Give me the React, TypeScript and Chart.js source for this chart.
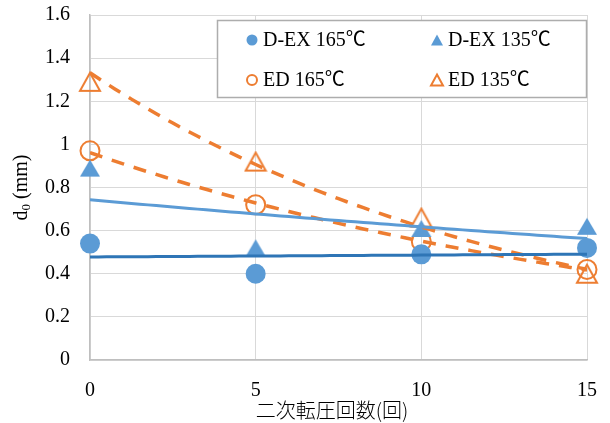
import { useEffect, useRef } from 'react';
import { Chart, registerables } from 'chart.js';

Chart.register(...registerables);

// ---- data ----
const xValues = [0, 5, 10, 15];
const dex165 = [0.54, 0.40, 0.49, 0.52];
const dex135 = [0.89, 0.52, 0.61, 0.62];
const ed165 = [0.97, 0.72, 0.55, 0.42];
const ed135 = [1.29, 0.92, 0.66, 0.40];
const seriesLabels = ['D-EX 165℃', 'D-EX 135℃', 'ED 165℃', 'ED 135℃'];
const xTicks = [0, 5, 10, 15];
const yTicks = [0, 0.2, 0.4, 0.6, 0.8, 1.0, 1.2, 1.4, 1.6];
const xTitle = '二次転圧回数(回)';
const yTitleMain = 'd';
const yTitleSub = '0';
const yTitleUnit = ' (mm)';

const BLUE = '#5B9BD5';
const DARK_BLUE = '#2E75B6';
const ORANGE = '#ED7D31';
const SERIF = "'Liberation Serif', 'Noto Sans CJK JP', serif";
const CJK = "'Noto Sans CJK JP', sans-serif";

// exponential trendline (Excel style): ln y = a + b x
function expTrend(xs: number[], ys: number[]) {
  const n = xs.length;
  const ly = ys.map((v) => Math.log(v));
  const mx = xs.reduce((s, v) => s + v, 0) / n;
  const my = ly.reduce((s, v) => s + v, 0) / n;
  let sxy = 0;
  let sxx = 0;
  for (let i = 0; i < n; i++) {
    sxy += (xs[i] - mx) * (ly[i] - my);
    sxx += (xs[i] - mx) * (xs[i] - mx);
  }
  const b = sxy / sxx;
  const a = my - b * mx;
  const x0 = xs[0];
  const x1 = xs[n - 1];
  const pts: { x: number; y: number }[] = [];
  const steps = 60;
  for (let i = 0; i <= steps; i++) {
    const x = x0 + ((x1 - x0) * i) / steps;
    pts.push({ x, y: Math.exp(a + b * x) });
  }
  return pts;
}

const toPts = (ys: number[]) => xValues.map((x, i) => ({ x, y: ys[i] }));

// triangle marker image, centred on its bounding box (as in the original)
function triangleImage(w: number, h: number, color: string, filled: boolean) {
  const pad = 2;
  const c = document.createElement('canvas');
  c.width = Math.ceil(w + pad * 2);
  c.height = Math.ceil(h + pad * 2);
  const ctx = c.getContext('2d')!;
  ctx.beginPath();
  ctx.moveTo(c.width / 2, pad);
  ctx.lineTo(pad + w, pad + h);
  ctx.lineTo(pad, pad + h);
  ctx.closePath();
  if (filled) {
    ctx.fillStyle = color;
    ctx.fill();
  } else {
    ctx.lineJoin = 'miter';
    ctx.strokeStyle = color;
    ctx.lineWidth = 2;
    ctx.stroke();
  }
  return c;
}

type LegendItem = { label: string; style: string; color: string; filled: boolean };
const legendItems: LegendItem[] = [
  { label: seriesLabels[0], style: 'circle', color: BLUE, filled: true },
  { label: seriesLabels[1], style: 'triangle', color: BLUE, filled: true },
  { label: seriesLabels[2], style: 'circle', color: ORANGE, filled: false },
  { label: seriesLabels[3], style: 'triangle', color: ORANGE, filled: false },
];

function drawMarker(ctx: CanvasRenderingContext2D, it: LegendItem, x: number, y: number) {
  ctx.save();
  ctx.beginPath();
  if (it.style === 'circle') {
    ctx.arc(x, y, it.filled ? 5.5 : 5, 0, Math.PI * 2);
  } else {
    const hw = 6;
    const hh = 5.5;
    ctx.moveTo(x, y - hh);
    ctx.lineTo(x + hw, y + hh);
    ctx.lineTo(x - hw, y + hh);
    ctx.closePath();
  }
  if (it.filled) {
    ctx.fillStyle = it.color;
    ctx.fill();
  } else {
    ctx.strokeStyle = it.color;
    ctx.lineWidth = 2;
    ctx.stroke();
  }
  ctx.restore();
}

const overlayPlugin = {
  id: 'overlay',
  afterDraw(chart: any) {
    const ctx: CanvasRenderingContext2D = chart.ctx;
    const area = chart.chartArea;
    ctx.save();
    // y title with subscript
    ctx.fillStyle = '#000';
    const mainFont = `20px ${SERIF}`;
    const subFont = `13px ${SERIF}`;
    ctx.font = mainFont;
    const wMain = ctx.measureText(yTitleMain).width;
    const wUnit = ctx.measureText(yTitleUnit).width;
    ctx.font = subFont;
    const wSub = ctx.measureText(yTitleSub).width;
    const total = wMain + wSub + wUnit;
    ctx.translate(22, (area.top + area.bottom) / 2);
    ctx.rotate(-Math.PI / 2);
    ctx.textBaseline = 'middle';
    ctx.textAlign = 'left';
    let cx = -total / 2;
    ctx.font = mainFont;
    ctx.fillText(yTitleMain, cx, 0);
    cx += wMain;
    ctx.font = subFont;
    ctx.fillText(yTitleSub, cx, 5);
    cx += wSub;
    ctx.font = mainFont;
    ctx.fillText(yTitleUnit, cx, 0);
    ctx.restore();

    // x title
    ctx.save();
    ctx.fillStyle = '#000';
    ctx.font = `300 20px ${CJK}`;
    ctx.textAlign = 'center';
    ctx.textBaseline = 'middle';
    ctx.fillText(xTitle, 332, 410);
    ctx.restore();

    // legend
    ctx.save();
    ctx.fillStyle = '#fff';
    ctx.fillRect(217, 20, 370, 78);
    ctx.strokeStyle = '#ADADAD';
    ctx.lineWidth = 1.5;
    ctx.strokeRect(217.5, 20.5, 369, 77);
    const cols = [252, 437];
    const rows = [40, 80];
    ctx.font = `20px ${SERIF}`;
    ctx.textBaseline = 'middle';
    ctx.textAlign = 'left';
    legendItems.forEach((it, i) => {
      const mx = cols[i % 2];
      const my = rows[Math.floor(i / 2)];
      drawMarker(ctx, it, mx, my);
      ctx.fillStyle = '#000';
      ctx.fillText(it.label, mx + 11, my + 1);
    });
    ctx.restore();
  },
};

export default function App() {
  const ref = useRef<HTMLCanvasElement | null>(null);

  useEffect(() => {
    if (!ref.current) return;
    const trendBase = {
      showLine: true,
      pointRadius: 0,
      pointHoverRadius: 0,
      fill: false,
      tension: 0,
      order: 0,
    };
    const triBlue = triangleImage(20, 17, BLUE, true);
    const triOrange = triangleImage(20, 18, ORANGE, false);
    const chart = new Chart(ref.current, {
      type: 'scatter',
      data: {
        datasets: [
          { ...trendBase, label: 'trend1', data: expTrend(xValues, dex165), borderColor: DARK_BLUE, borderWidth: 3 },
          { ...trendBase, label: 'trend2', data: expTrend(xValues, dex135), borderColor: BLUE, borderWidth: 3 },
          { ...trendBase, label: 'trend3', data: expTrend(xValues, ed165), borderColor: ORANGE, borderWidth: 3.5, borderDash: [13, 10] },
          { ...trendBase, label: 'trend4', data: expTrend(xValues, ed135), borderColor: ORANGE, borderWidth: 3.5, borderDash: [13, 10] },
          {
            label: seriesLabels[0], data: toPts(dex165), pointStyle: 'circle', pointRadius: 10,
            backgroundColor: BLUE, borderColor: BLUE, borderWidth: 0, order: 1, clip: false,
          },
          {
            label: seriesLabels[1], data: toPts(dex135), pointStyle: triBlue, pointRadius: 10,
            backgroundColor: BLUE, borderColor: BLUE, borderWidth: 0, order: 1, clip: false,
          },
          {
            label: seriesLabels[2], data: toPts(ed165), pointStyle: 'circle', pointRadius: 9.5,
            backgroundColor: 'rgba(0,0,0,0)', borderColor: ORANGE, borderWidth: 2, order: 1, clip: false,
          },
          {
            label: seriesLabels[3], data: toPts(ed135), pointStyle: triOrange, pointRadius: 10,
            backgroundColor: 'rgba(0,0,0,0)', borderColor: ORANGE, borderWidth: 2, order: 1, clip: false,
          },
        ] as any,
      },
      options: {
        responsive: false,
        animation: false,
        devicePixelRatio: 1,
        layout: { padding: { top: 15, right: 23, left: 0, bottom: 0 } },
        plugins: {
          legend: { display: false },
          tooltip: { enabled: false },
        },
        scales: {
          x: {
            type: 'linear',
            min: 0,
            max: 15,
            afterBuildTicks: (s: any) => {
              s.ticks = xTicks.map((v) => ({ value: v }));
            },
            afterFit: (s: any) => {
              s.height = 63;
              s.paddingLeft = 0;
              s.paddingRight = 0;
            },
            ticks: {
              color: '#000',
              font: { family: SERIF, size: 20 },
              padding: 19,
              maxRotation: 0,
              callback: (v: any) => String(v),
            },
            grid: { color: '#D9D9D9', lineWidth: 1, drawTicks: false, tickLength: 0 },
            border: { color: '#BFBFBF', width: 1.5 },
          },
          y: {
            type: 'linear',
            min: 0,
            max: 1.6,
            afterBuildTicks: (s: any) => {
              s.ticks = yTicks.map((v) => ({ value: v }));
            },
            afterFit: (s: any) => {
              s.width = 90;
              s.paddingTop = 0;
              s.paddingBottom = 0;
            },
            ticks: {
              color: '#000',
              font: { family: SERIF, size: 20 },
              padding: 20,
              callback: (v: any) => String(Math.round(Number(v) * 10) / 10),
            },
            grid: { color: '#D9D9D9', lineWidth: 1, drawTicks: false, tickLength: 0 },
            border: { color: '#BFBFBF', width: 1.5 },
          },
        },
      } as any,
      plugins: [overlayPlugin],
    });
    return () => chart.destroy();
  }, []);

  return (
    <div style={{ position: 'absolute', left: 0, top: 0, width: 610, height: 423, background: '#fff' }}>
      <canvas ref={ref} width={610} height={423} style={{ display: 'block' }} />
    </div>
  );
}
